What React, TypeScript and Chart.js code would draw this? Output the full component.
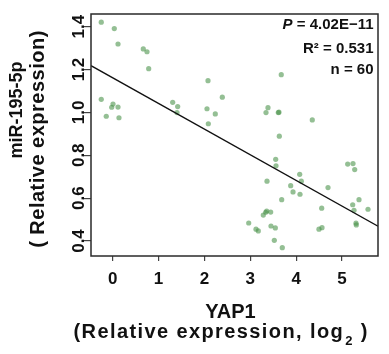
import { useEffect, useRef } from "react";
import { Chart, registerables } from "chart.js";

Chart.register(...registerables);

// YAP1 (relative expression, log2)
const yapX = [
  -0.249, 0.035, 0.116, 0.667, 0.748, 0.785, 2.078, 2.39, -0.249, 0.007,
  -0.022, 0.116, -0.14, 0.137, 1.308, 1.417, 1.402, 2.056, 2.237, 2.085,
  3.676, 3.386, 3.343, 3.611, 3.625, 4.352, 3.633, 3.554, 3.561, 5.124,
  5.24, 5.277, 4.078, 3.365, 4.113, 3.881, 4.695, 3.932, 4.084, 3.685,
  5.371, 5.233, 5.567, 5.262, 4.557, 3.358, 3.445, 3.336, 3.284, 2.966,
  5.305, 5.312, 3.452, 3.546, 3.125, 3.175, 4.564, 4.498, 3.524, 3.698,
];
// miR-195-5p (relative expression)
const mirY = [
  1.421, 1.391, 1.319, 1.296, 1.283, 1.204, 1.148, 1.071, 1.061, 1.039,
  1.024, 1.025, 0.982, 0.975, 1.047, 1.027, 0.999, 1.017, 0.993, 0.947,
  1.176, 1.022, 0.999, 0.999, 1.001, 0.965, 0.889, 0.781, 0.751, 0.759,
  0.761, 0.733, 0.711, 0.679, 0.679, 0.658, 0.649, 0.629, 0.618, 0.593,
  0.593, 0.569, 0.548, 0.543, 0.553, 0.54, 0.535, 0.534, 0.521, 0.484,
  0.483, 0.475, 0.47, 0.461, 0.455, 0.447, 0.462, 0.455, 0.403, 0.369,
];

// fitted regression line end points
const fitX = [-0.473, 5.785];
const fitY = [1.218, 0.469];

const xTicks = [0, 1, 2, 3, 4, 5];
const yTicks = [0.4, 0.6, 0.8, 1.0, 1.2, 1.4];
const xRange = [-0.473, 5.785];
const yRange = [0.33, 1.459];

const statP = "4.02E\u221211";
const statR2 = "0.531";
const statN = "60";

const xTitle = "YAP1";
const xSubTitle = ["(Relative expression, log", "2", " )"];
const yTitle = ["miR-195-5p", "( Relative expression)"];

const FONT = "'Liberation Sans', Arial, Helvetica, sans-serif";

const overlay = {
  id: "overlay",
  afterDraw(chart: any) {
    const { ctx, chartArea: a } = chart;
    ctx.save();
    // box
    ctx.strokeStyle = "#2a2a2a";
    ctx.lineWidth = 1.5;
    ctx.strokeRect(a.left, a.top, a.right - a.left, a.bottom - a.top);

    ctx.fillStyle = "#111";
    ctx.textBaseline = "alphabetic";
    // statistics
    const rx = a.right - 4.5;
    ctx.textAlign = "right";
    ctx.font = `bold 15px ${FONT}`;
    const rest = " = " + statP;
    const wRest = ctx.measureText(rest).width;
    ctx.fillText(rest, rx, 28.5);
    ctx.font = `italic bold 15px ${FONT}`;
    ctx.fillText("P", rx - wRest, 28.5);
    ctx.font = `bold 15px ${FONT}`;
    ctx.fillText("R\u00b2 = " + statR2, rx, 52.5);
    ctx.fillText("n = " + statN, rx, 74);

    // x title
    ctx.textAlign = "center";
    ctx.font = `bold 20px ${FONT}`;
    ctx.fillText(xTitle, 230.5, 318.3);
    ctx.textAlign = "left";
    (ctx as any).letterSpacing = "1.4px";
    let x = 73.5;
    ctx.fillText(xSubTitle[0], x, 338.3);
    x += ctx.measureText(xSubTitle[0]).width;
    ctx.font = `bold 13px ${FONT}`;
    ctx.fillText(xSubTitle[1], x + 1, 345);
    x += ctx.measureText(xSubTitle[1]).width + 1;
    ctx.font = `bold 20px ${FONT}`;
    ctx.fillText(xSubTitle[2], x, 338.3);
    (ctx as any).letterSpacing = "0px";

    // y title
    ctx.textAlign = "center";
    ctx.textBaseline = "middle";
    ctx.save();
    ctx.font = `bold 18px ${FONT}`;
    ctx.translate(17, 110);
    ctx.rotate(-Math.PI / 2);
    ctx.fillText(yTitle[0], 0, 0);
    ctx.restore();
    ctx.save();
    ctx.font = `bold 20px ${FONT}`;
    ctx.translate(38.8, 139);
    ctx.rotate(-Math.PI / 2);
    (ctx as any).letterSpacing = "0.5px";
    ctx.fillText(yTitle[1], 0, 0);
    ctx.restore();
    ctx.restore();
  },
};

export default function App() {
  const ref = useRef<HTMLCanvasElement | null>(null);
  useEffect(() => {
    if (!ref.current) return;
    const points = yapX.map((v, i) => ({ x: v, y: mirY[i] }));
    const fit = fitX.map((v, i) => ({ x: v, y: fitY[i] }));
    const chart = new Chart(ref.current, {
      type: "scatter",
      data: {
        datasets: [
          {
            type: "line",
            data: fit,
            borderColor: "#111",
            borderWidth: 1.3,
            pointRadius: 0,
            fill: false,
          },
          {
            data: points,
            pointRadius: 2.6,
            pointHoverRadius: 2.6,
            backgroundColor: "rgba(70,145,70,0.58)",
            borderWidth: 0,
          },
        ],
      },
      options: {
        responsive: false,
        animation: false,
        events: [],
        layout: { padding: { left: 0, top: 14, right: 11, bottom: 0 } },
        plugins: { legend: { display: false }, tooltip: { enabled: false } },
        scales: {
          x: {
            type: "linear",
            min: xRange[0],
            max: xRange[1],
            afterBuildTicks: (s: any) => {
              s.ticks = xTicks.map((v) => ({ value: v }));
            },
            afterFit: (s: any) => {
              s.height = 98;
            },
            grid: {
              drawOnChartArea: false,
              drawTicks: true,
              tickLength: 5,
              color: "#444",
              lineWidth: 1.2,
            },
            border: { display: false },
            ticks: {
              color: "#111",
              padding: 8,
              font: { family: FONT, size: 17, weight: "bold" },
              maxRotation: 0,
              minRotation: 0,
            },
          },
          y: {
            type: "linear",
            min: yRange[0],
            max: yRange[1],
            afterBuildTicks: (s: any) => {
              s.ticks = yTicks.map((v) => ({ value: v }));
            },
            afterFit: (s: any) => {
              s.width = 91;
            },
            grid: {
              drawOnChartArea: false,
              drawTicks: true,
              tickLength: 8,
              color: "#444",
              lineWidth: 1.2,
            },
            border: { display: false },
            ticks: {
              color: "#111",
              padding: -8,
              crossAlign: "center",
              minRotation: 90,
              maxRotation: 90,
              font: { family: FONT, size: 17, weight: "bold" },
              callback: (v: any) => Number(v).toFixed(1),
            },
          },
        },
      },
      plugins: [overlay],
    } as any);
    return () => chart.destroy();
  }, []);
  return (
    <div style={{ position: "fixed", left: 0, top: 0, width: 389, height: 354, background: "#fff" }}>
      <canvas ref={ref} width={389} height={354} style={{ width: 389, height: 354, display: "block" }} />
    </div>
  );
}
